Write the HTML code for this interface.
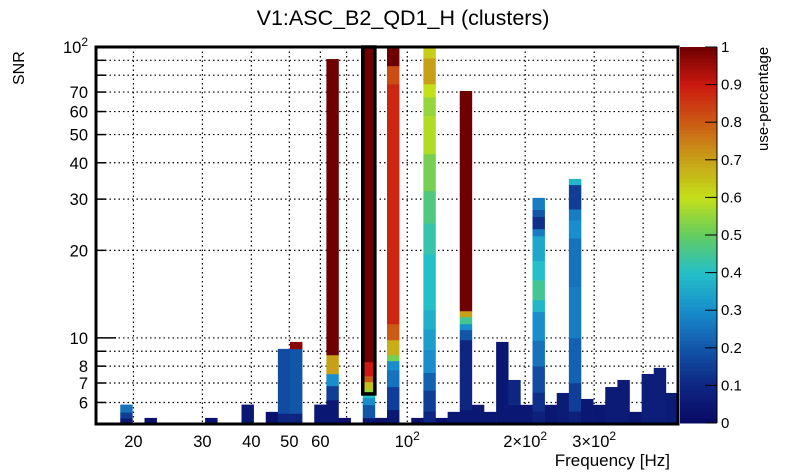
<!DOCTYPE html>
<html><head><meta charset="utf-8"><style>
body{margin:0;background:#fff;}
svg{display:block;font-family:"Liberation Sans",sans-serif;}
</style></head><body>
<svg id="chart" width="805" height="472" xmlns="http://www.w3.org/2000/svg">
<text x="403" y="25" font-size="21.5" text-anchor="middle">V1:ASC_B2_QD1_H (clusters)</text>
<text transform="translate(24,85) rotate(-90)" font-size="16">SNR</text>
<text x="670" y="466" font-size="17" text-anchor="end">Frequency [Hz]</text>
<text transform="translate(768,151) rotate(-90)" font-size="15">use-percentage</text>
<g id="grid"></g><g id="marks"></g><g id="axes"></g><g id="cbar"></g>
</svg>
<script>
// ---- data ----
const binIndex = [2,4,9,12,14,15,16,18,19,20,22,23,24,26,27,28,29,30,31,32,33,34,35,36,37,38,39,40,41,42,43,44,45,46,47];
const segTops = [
 [5.3,5.55,5.9],[5.31],[5.31],[5.9],[5.57],[5.5,9.17],[5.5,9.17,9.69],[5.9],
 [6.12,6.84,7.52,8.74,90.9],[5.31],
 [5.31,5.89,6.22,6.36,6.68,7.06,7.4,8.27,100],[5.31],
 [5.66,6.79,7.76,8.34,8.74,9.84,11.17,74.6,86.1,100],[5.31],
 [5.6,6.6,7.6,9.1,10.7,12.5,19.4,24.8,32,42.9,57.9,67.3,74.6,91.6,100],
 [5.31],[5.57],
 [5.66,9.84,10.66,11.17,11.81,12.38,70.6],
 [5.89],[5.57],[9.69],[5.9,7.17],[5.89],
 [5.6,6.5,8,9.8,12.3,13.5,15.8,18.4,22.4,23.7,26.1,27.6,30.3],
 [5.89],[6.47],
 [5.6,7,10,15,22,25.4,27.7,33.6,35.2],
 [6.17],[5.89],[6.78],[7.17],[5.57],[7.52],[7.89],[6.47]
];
const segUse = [
 [0.05,0.15,0.25],[0.03],[0.03],[0.05],[0.03],[0.1,0.18],[0.1,0.2,0.97],[0.05],
 [0.05,0.15,0.3,0.7,1],[0.03],
 [0.05,0.2,0.3,0.4,0.55,0.65,0.8,0.9,1],[0.03],
 [0.05,0.15,0.25,0.3,0.52,0.68,0.8,0.88,0.82,1],[0.03],
 [0.1,0.15,0.22,0.3,0.33,0.37,0.4,0.43,0.47,0.52,0.58,0.55,0.6,0.7,0.63],
 [0.03],[0.05],
 [0.05,0.1,0.2,0.3,0.45,0.7,1],
 [0.05],[0.05],[0.05],[0.05,0.1],[0.05],
 [0.08,0.12,0.18,0.25,0.3,0.38,0.45,0.4,0.35,0.27,0.12,0.2,0.27],
 [0.05],[0.06],
 [0.08,0.15,0.22,0.27,0.25,0.3,0.27,0.15,0.38],
 [0.05],[0.05],[0.06],[0.06],[0.04],[0.07],[0.07],[0.06]
];
const yTicks = [6,7,8,10,20,30,40,50,60,70,100];
const yTickLabels = ["6","7","8","10","20","30","40","50","60","70","10²"];
const yGrid = [6,7,8,9,10,20,30,40,50,60,70,80,90];
const xGrid = [20,30,40,50,60,70,80,90,100,200,300,400];
const xTicks = [20,30,40,50,60,100,200,300];
const xTickLabels = ["20","30","40","50","60","10²","2×10²","3×10²"];
const cbTicks = [0,0.1,0.2,0.3,0.4,0.5,0.6,0.7,0.8,0.9,1];
const boxedBin = 22, boxedTop = 100, boxedBottom = 6.42;

// ---- geometry ----
const X0=96, X1=678, Y0=47, Y1=424, NB=48;
const FMIN=16.05, FMAX=491, SMIN=5.06, SMAX=100;
const lx = f => X0 + (Math.log10(f)-Math.log10(FMIN))/(Math.log10(FMAX)-Math.log10(FMIN))*(X1-X0);
const ly = s => Y1 - (Math.log10(s)-Math.log10(SMIN))/(Math.log10(SMAX)-Math.log10(SMIN))*(Y1-Y0);
const bx = i => X0 + i*(X1-X0)/NB;
const stops=[[0,[8,10,100]],[0.1,[14,38,130]],[0.2,[18,86,170]],[0.3,[24,142,204]],[0.4,[36,192,200]],[0.5,[100,204,96]],[0.6,[196,224,24]],[0.7,[200,160,24]],[0.8,[204,90,20]],[0.9,[204,24,16]],[1,[110,0,0]]];
function col(u){u=Math.max(0,Math.min(1,u));for(let k=1;k<stops.length;k++){if(u<=stops[k][0]){const a=stops[k-1],b=stops[k],t=(u-a[0])/(b[0]-a[0]);const c=a[1].map((v,j)=>Math.round(v+(b[1][j]-v)*t));return `rgb(${c})`;}}return 'rgb(110,0,0)';}
const NS='http://www.w3.org/2000/svg';
function mk(tag,attrs,parent){const e=document.createElementNS(NS,tag);for(const k in attrs)e.setAttribute(k,attrs[k]);parent.appendChild(e);return e;}
const grid=document.getElementById('grid'),marks=document.getElementById('marks'),axes=document.getElementById('axes'),cbar=document.getElementById('cbar');

// grid
yGrid.forEach(v=>{const y=ly(v);const l=mk('line',{x1:X0,x2:X1,y1:y,y2:y,stroke:'#000','stroke-width':1.2,'stroke-dasharray':'1.5,3'},grid);

});
xGrid.forEach(v=>{const x=lx(v);const l=mk('line',{x1:x,x2:x,y1:Y0,y2:Y1,stroke:'#000','stroke-width':1.2,'stroke-dasharray':'1.5,3'},grid);

});

// marks
binIndex.forEach((bi,c)=>{let prev=SMIN;segTops[c].forEach((t,k)=>{const y1=ly(prev),y2=ly(Math.min(t,SMAX));
const r=mk('rect',{x:bx(bi),y:y2,width:bx(bi+1)-bx(bi)+0.3,height:Math.max(0,y1-y2)+0.3,fill:col(segUse[c][k])},marks);


prev=t;});});
const box=mk('rect',{x:bx(boxedBin),y:ly(boxedTop),width:bx(boxedBin+1)-bx(boxedBin),height:ly(boxedBottom)-ly(boxedTop),fill:'none',stroke:'#000','stroke-width':3.5},marks);



// axes frame + ticks
const fr=mk('rect',{x:X0,y:Y0,width:X1-X0,height:Y1-Y0,fill:'none',stroke:'#000','stroke-width':3},axes);


yGrid.forEach(v=>{const y=ly(v);const major=(v===10||v===100);const t=mk('line',{x1:X0,x2:X0+(major?20:10),y1:y,y2:y,stroke:'#000','stroke-width':1.5},axes);

});
yTicks.forEach((v,i)=>{const lab=yTickLabels[i];const t=mk('text',{x:88,y:ly(v)+6,'font-size':16.5,'text-anchor':'end'},axes);
if(lab.endsWith('²')){t.textContent='10';const s=mk('tspan',{dy:-7,'font-size':12},t);s.textContent='2';}else t.textContent=lab;

});
xTicks.forEach((v,i)=>{const lab=xTickLabels[i];const t=mk('text',{x:lx(v),y:447,'font-size':16.5,'text-anchor':'middle'},axes);
if(lab.endsWith('²')){t.textContent=lab.slice(0,-1);const s=mk('tspan',{dy:-7,'font-size':12},t);s.textContent='2';}else t.textContent=lab;

});

// colorbar
const CX=680,CW=37,CY0=47,CY1=423;
for(let k=0;k<100;k++){const u0=k/100;const r=mk('rect',{x:CX,y:CY1-(k+1)*(CY1-CY0)/100,width:CW,height:(CY1-CY0)/100+0.5,fill:col(u0+0.005)},cbar);

}
cbTicks.forEach(v=>{const y=CY1-v*(CY1-CY0);const l=mk('line',{x1:CX+CW-12,x2:CX+CW,y1:y,y2:y,stroke:'#000','stroke-width':1},cbar);


const t=mk('text',{x:721,y:y+5,'font-size':15},cbar);t.textContent=String(v);

});
const cl=mk('line',{x1:CX+CW,x2:CX+CW,y1:CY0,y2:CY1,stroke:'#000','stroke-width':1},cbar);


</script>
</body></html>
